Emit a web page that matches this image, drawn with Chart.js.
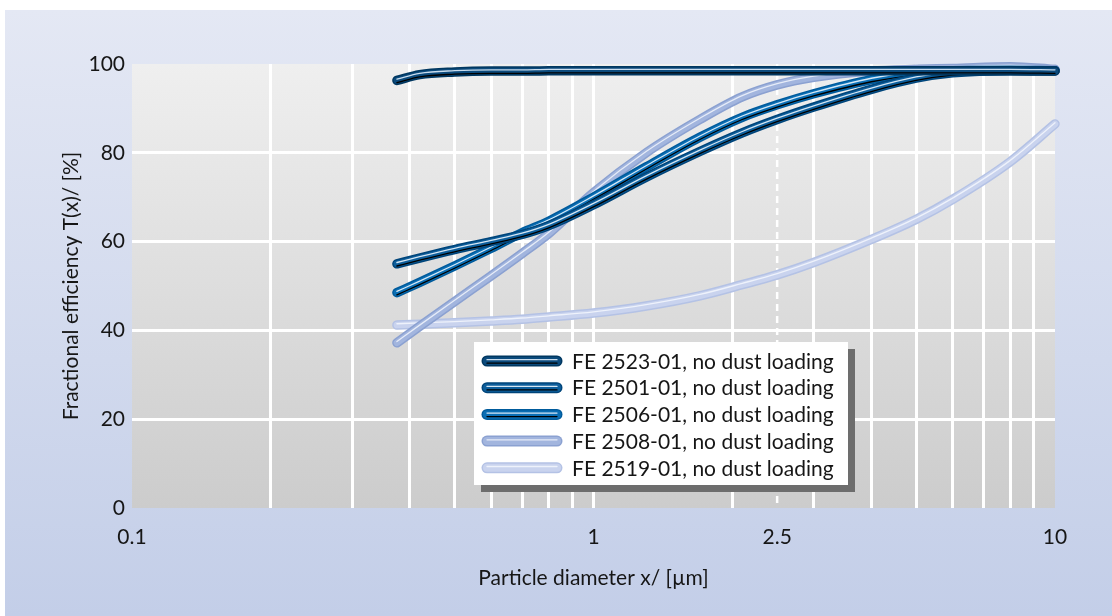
<!DOCTYPE html>
<html>
<head>
<meta charset="utf-8">
<script src="https://cdn.jsdelivr.net/npm/chart.js@4.4.1/dist/chart.umd.min.js"></script>
<style>
  html, body { margin: 0; padding: 0; background: #fff; }
  #wrap {
    position: absolute; left: 5px; top: 10px; width: 1107px; height: 606px;
    background: linear-gradient(to bottom, #e4e8f4 0%, #c3cee8 100%);
  }
</style>
</head>
<body>
<div id="wrap"><canvas id="chart" width="1107" height="606"></canvas></div>
<script>
// particle diameter in µm (shared by all curves)
const particleSize = [0.375, 0.42, 0.5, 0.6, 0.7, 0.8, 1.0, 1.3, 1.7, 2.1, 2.5, 3, 4, 5, 6, 8, 10];

// fractional efficiency in %
const fe2523 = [96.3, 97.6, 98.2, 98.4, 98.4, 98.5, 98.5, 98.5, 98.5, 98.5, 98.5, 98.5, 98.5, 98.5, 98.5, 98.5, 98.4];
const fe2501 = [55.0, 56.3, 58.2, 60.0, 61.6, 63.6, 68.3, 74.5, 80.3, 84.5, 87.5, 90.3, 94.3, 96.8, 98.0, 98.5, 98.5];
const fe2506 = [48.5, 50.8, 54.5, 58.5, 62.0, 64.6, 70.0, 76.8, 83.5, 88.0, 90.8, 93.3, 96.5, 98.0, 98.5, 98.6, 98.5];
const fe2508 = [37.2, 40.9, 46.5, 52.3, 57.3, 61.8, 71.0, 80.0, 87.5, 92.6, 95.3, 97.0, 98.4, 98.8, 99.0, 99.4, 98.8];
const fe2519 = [41.2, 41.4, 41.7, 42.1, 42.5, 43.0, 43.9, 45.5, 47.8, 50.3, 52.5, 55.3, 60.5, 65.0, 69.5, 78.0, 86.5];

const seriesNames = [
  'FE 2523-01, no dust loading',
  'FE 2501-01, no dust loading',
  'FE 2506-01, no dust loading',
  'FE 2508-01, no dust loading',
  'FE 2519-01, no dust loading'
];
const seriesValues = [fe2523, fe2501, fe2506, fe2508, fe2519];

// x grid positions and the ones that get a label
const xGridValues = [0.1, 0.2, 0.3, 0.4, 0.5, 0.6, 0.7, 0.8, 0.9, 1, 2, 2.5, 3, 4, 5, 6, 7, 8, 9, 10];
const xLabelValues = [0.1, 1, 2.5, 10];
const xLabelTexts = ['0.1', '1', '2.5', '10'];

const lineStyles = [
  { edge: '#003760', main: '#0b4a7c', hi: '#c9dced', shadow: '#000' },
  { edge: '#00457a', main: '#0d5e9b', hi: '#d6e6f3', shadow: '#000' },
  { edge: '#005b9c', main: '#0a6eb4', hi: '#d6e8f6', shadow: '#000' },
  { edge: '#8ba1d1', main: '#a2b5de', hi: '#e6ecf8', shadow: null },
  { edge: '#b4c2e5', main: '#c9d3ee', hi: '#eef2fb', shadow: null }
];

const FONT = 'Lato, "Noto Sans", sans-serif';
const TEXT = '#161616';

function strokeLayers(ctx, trace, st, w) {
  ctx.save();
  ctx.lineCap = 'round';
  ctx.lineJoin = 'round';
  ctx.strokeStyle = st.main; ctx.lineWidth = w - 3; trace(); ctx.stroke();
  if (st.shadow) {
    ctx.save();
    ctx.translate(0, 2.2);
    ctx.strokeStyle = st.shadow; ctx.lineWidth = 1.3; trace(); ctx.stroke();
    ctx.restore();
  }
  ctx.translate(0, -1.3);
  ctx.strokeStyle = st.hi; ctx.lineWidth = 1.3; trace(); ctx.stroke();
  ctx.restore();
}

const plotBackground = {
  id: 'plotBackground',
  beforeDraw(chart) {
    const { ctx, chartArea: a } = chart;
    const g = ctx.createLinearGradient(0, a.top, 0, a.bottom);
    g.addColorStop(0, '#efefef');
    g.addColorStop(1, '#cccccc');
    ctx.save();
    ctx.fillStyle = g;
    ctx.fillRect(a.left, a.top, a.right - a.left, a.bottom - a.top);
    ctx.restore();
  },
  beforeDatasetsDraw(chart) {
    // dashed marker at 2.5 µm
    const { ctx, chartArea: a } = chart;
    const x = chart.scales.x.getPixelForValue(2.5);
    ctx.save();
    ctx.setLineDash([7, 5]);
    ctx.strokeStyle = '#fff';
    ctx.lineWidth = 2.5;
    ctx.beginPath();
    ctx.moveTo(x, a.top);
    ctx.lineTo(x, a.bottom);
    ctx.stroke();
    ctx.restore();
  }
};

const fancyLines = {
  id: 'fancyLines',
  afterDatasetDraw(chart, args) {
    const line = args.meta.dataset;
    const ctx = chart.ctx;
    strokeLayers(ctx, () => { ctx.beginPath(); line.path(ctx); }, lineStyles[args.index], 9.5);
  }
};

const boxLegend = {
  id: 'boxLegend',
  afterDraw(chart) {
    const { ctx, chartArea: a } = chart;
    const left = a.left + 342, top = a.top + 278, w = 374, h = 143;
    ctx.save();
    ctx.fillStyle = '#6d6d6d';
    ctx.fillRect(left + 7, top + 7, w, h);
    ctx.fillStyle = '#fff';
    ctx.fillRect(left, top, w, h);
    ctx.font = '21px ' + FONT;
    ctx.textBaseline = 'middle';
    chart.data.datasets.forEach((ds, i) => {
      const y = top + 19 + i * 26.7;
      const st = lineStyles[i];
      const trace = () => { ctx.beginPath(); ctx.moveTo(left + 13, y); ctx.lineTo(left + 83, y); };
      ctx.save();
      ctx.lineCap = 'round';
      ctx.strokeStyle = st.edge; ctx.lineWidth = 11; trace(); ctx.stroke();
      ctx.restore();
      strokeLayers(ctx, trace, st, 11);
      ctx.fillStyle = TEXT;
      ctx.fillText(ds.label, left + 98, y + 1);
    });
    ctx.restore();
  }
};

new Chart(document.getElementById('chart'), {
  type: 'line',
  data: {
    datasets: seriesNames.map((name, i) => ({
      label: name,
      data: particleSize.map((x, k) => ({ x, y: seriesValues[i][k] })),
      borderColor: lineStyles[i].edge,
      borderWidth: 9.5,
      borderCapStyle: 'round',
      borderJoinStyle: 'round',
      cubicInterpolationMode: 'monotone',
      pointRadius: 0,
      clip: false
    }))
  },
  options: {
    responsive: false,
    animation: false,
    devicePixelRatio: 1,
    layout: { padding: { left: 40, top: 54, right: 57, bottom: 20 } },
    plugins: { legend: { display: false }, tooltip: { enabled: false } },
    scales: {
      x: {
        type: 'logarithmic',
        min: 0.1,
        max: 10,
        afterBuildTicks: s => { s.ticks = xGridValues.map(v => ({ value: v })); },
        afterFit: s => { s.height = 88; },
        border: { display: false },
        grid: {
          drawTicks: false,
          lineWidth: 3,
          color: c => (c.tick && [0.1, 2.5, 10].includes(c.tick.value)) ? 'rgba(0,0,0,0)' : '#ffffff'
        },
        ticks: {
          autoSkip: false,
          maxRotation: 0,
          padding: 17,
          color: TEXT,
          font: { family: FONT, size: 21 },
          callback: v => {
            const k = xLabelValues.indexOf(v);
            return k >= 0 ? xLabelTexts[k] : '';
          }
        },
        title: {
          display: true,
          text: 'Particle diameter x/ [µm]',
          color: TEXT,
          font: { family: FONT, size: 21 },
          padding: { top: 0, bottom: 5 }
        }
      },
      y: {
        min: 0,
        max: 100,
        afterFit: s => { s.width = 87; },
        border: { display: false },
        grid: {
          drawTicks: false,
          lineWidth: 3,
          color: c => (c.tick && (c.tick.value === 0 || c.tick.value === 100)) ? 'rgba(0,0,0,0)' : '#ffffff'
        },
        ticks: {
          stepSize: 20,
          padding: 7,
          color: TEXT,
          font: { family: FONT, size: 21 }
        },
        title: {
          display: true,
          text: 'Fractional efficiency T(x)/ [%]',
          color: TEXT,
          font: { family: FONT, size: 21 },
          padding: { top: 14, bottom: 0 }
        }
      }
    }
  },
  plugins: [plotBackground, fancyLines, boxLegend]
});
</script>
</body>
</html>
